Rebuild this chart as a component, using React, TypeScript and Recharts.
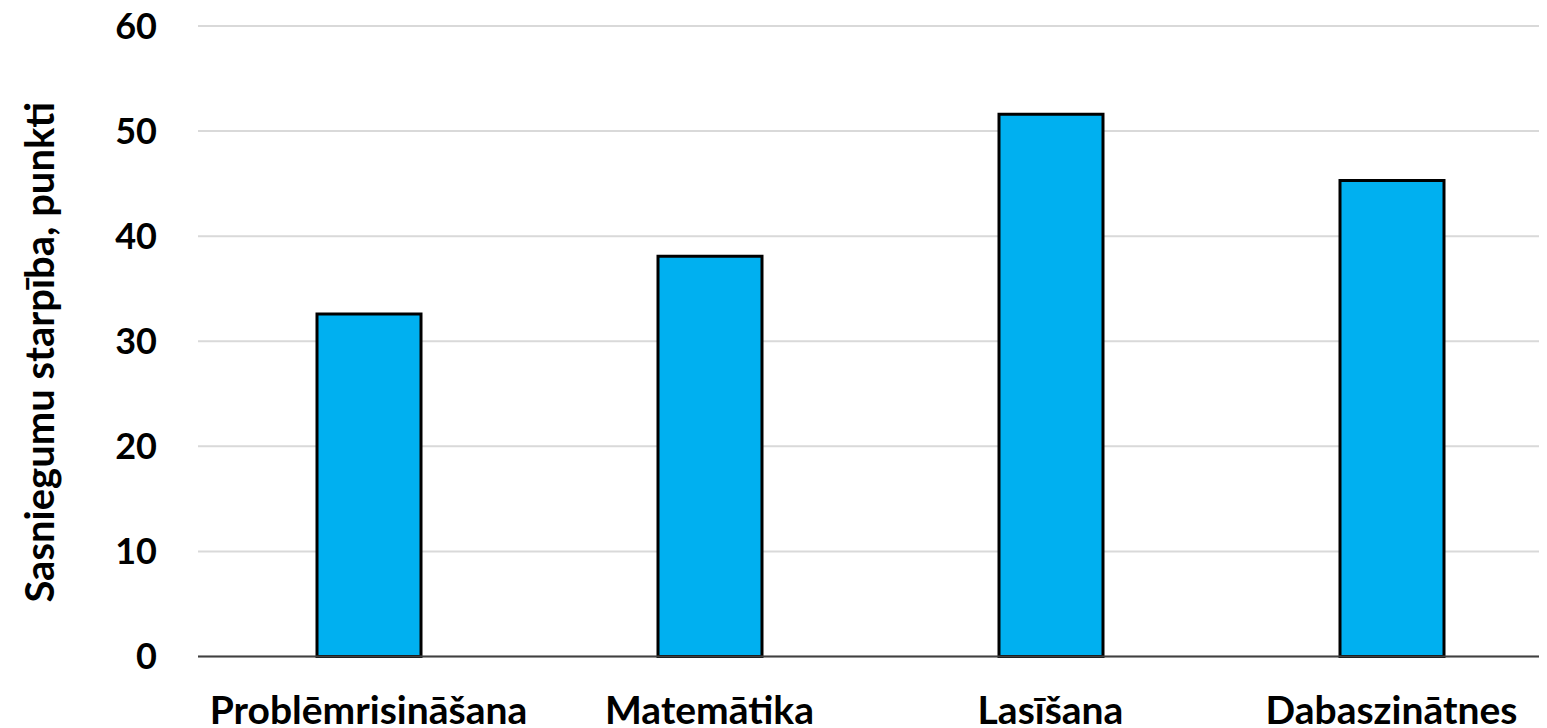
import { BarChart, Bar, XAxis, YAxis, CartesianGrid } from 'recharts';

const categories = ['Problēmrisināšana', 'Matemātika', 'Lasīšana', 'Dabaszinātnes'];
const gapValues = [32.6, 38.1, 51.6, 45.3];
const yTicks = [0, 10, 20, 30, 40, 50, 60];

const data = categories.map((name, i) => ({ name, gap: gapValues[i] }));

const FONT = 'Lato, "Open Sans", sans-serif';

const YLabel = ({ viewBox }: any) => {
  const cy = viewBox.y + viewBox.height / 2 + 11;
  return (
    <text
      x={54}
      y={cy}
      transform={`rotate(-90 54 ${cy})`}
      textAnchor="middle"
      fontFamily={FONT}
      fontWeight={700}
      fontSize={40}
      fill="#000"
    >
      Sasniegumu starpība, punkti
    </text>
  );
};

const CategoryTick = ({ x, payload }: any) => (
  <text
    x={x}
    y={724}
    textAnchor="middle"
    fontFamily={FONT}
    fontWeight={700}
    fontSize={39}
    fill="#000"
  >
    {payload.value}
  </text>
);

export default function App() {
  return (
    <div
      style={{
        width: 1547,
        height: 728,
        overflow: 'hidden',
        marginTop: -8,
        marginLeft: -8,
        background: '#fff',
      }}
    >
      <BarChart
        width={1570}
        height={728}
        data={data}
        margin={{ top: 26, right: 8, bottom: 0, left: 0 }}
      >
        <CartesianGrid vertical={false} stroke="#d9d9d9" strokeWidth={2} />
        <XAxis
          dataKey="name"
          height={71.5}
          axisLine={{ stroke: '#404040', strokeWidth: 2 }}
          tickLine={false}
          interval={0}
          tick={<CategoryTick />}
        />
        <YAxis
          width={198}
          domain={[0, 60]}
          ticks={yTicks}
          axisLine={false}
          tickLine={false}
          tickMargin={35}
          tick={{ fontFamily: FONT, fontWeight: 700, fontSize: 36, fill: '#000' }}
          label={<YLabel />}
        />
        <Bar
          dataKey="gap"
          fill="#00b0f0"
          stroke="#000"
          strokeWidth={3}
          barSize={104}
          isAnimationActive={false}
        />
      </BarChart>
    </div>
  );
}
